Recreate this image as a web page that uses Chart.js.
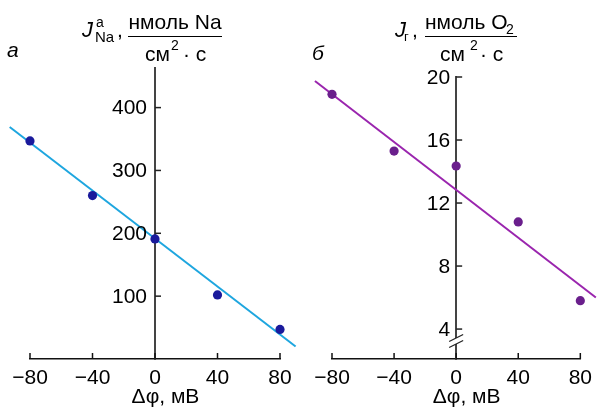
<!DOCTYPE html>
<html>
<head>
<meta charset="utf-8">
<script src="https://cdn.jsdelivr.net/npm/chart.js@4"></script>
<style>
  html,body{margin:0;padding:0;background:#fff;}
  #wrap{position:relative;width:599px;height:407px;overflow:hidden;}
  canvas{position:absolute;top:0;}
  #cA{left:0;}
  #cB{left:300px;}
</style>
</head>
<body>
<div id="wrap">
  <canvas id="cA" width="300" height="407"></canvas>
  <canvas id="cB" width="299" height="407"></canvas>
</div>
<script>
// ---- data ----
const potential = [-80, -40, 0, 40, 80];              // Δφ, мВ
const naFlux = [347, 260, 191, 102, 47];              // J_Na^a, нмоль Na/(см²·с)
const naFitX = [-93, 90];
const naFitY = [369, 20];
const o2Flux = [18.9, 15.3, 14.35, 10.8, 5.8];        // J_г, нмоль O2/(см²·с)
const o2FitX = [-91, 90];
const o2FitY = [19.75, 6.0];
const xTickValues = [-80, -40, 0, 40, 80];
const naTickValues = [100, 200, 300, 400];
const o2TickValues = [4, 8, 12, 16, 20];
const xAxisTitle = 'Δφ, мВ';

const FONT = "'Liberation Sans', Arial, Helvetica, sans-serif";

function fmt(v){ return v < 0 ? '\u2212' + Math.abs(v) : String(v); }
function pts(xs, ys){ return xs.map((x,i)=>({x:x, y:ys[i]})); }

const axisDecor = {
  id: 'axisDecor',
  afterDraw(chart, args, opts){
    const ctx = chart.ctx;
    const xs = chart.scales.x, ys = chart.scales.y;
    const ca = chart.chartArea;
    const x0 = xs.getPixelForValue(0);
    ctx.save();
    // x ticks pointing up
    ctx.strokeStyle = '#111'; ctx.lineWidth = 1.5;
    xTickValues.forEach(v=>{
      const px = xs.getPixelForValue(v);
      ctx.beginPath(); ctx.moveTo(px, ca.bottom); ctx.lineTo(px, ca.bottom - 6); ctx.stroke();
    });
    // x axis title
    ctx.fillStyle = '#000';
    ctx.font = '21px ' + FONT;
    ctx.textAlign = 'center'; ctx.textBaseline = 'alphabetic';
    ctx.fillText(xAxisTitle, x0 + 10.5, 403);
    // y ticks pointing right, labels on the left of the axis
    ctx.lineWidth = 1.5; ctx.strokeStyle = '#222';
    ctx.textAlign = 'right'; ctx.textBaseline = 'middle';
    ys.ticks.forEach(t=>{
      const py = ys.getPixelForValue(t.value);
      ctx.beginPath(); ctx.moveTo(x0, py); ctx.lineTo(x0 + 6, py); ctx.stroke();
      ctx.fillText(fmt(t.value), x0 - opts.labelPad, py + 1);
    });
    // axis break
    if (opts.brk){
      const c = opts.brk;
      ctx.fillStyle = '#fff';
      ctx.fillRect(x0 - 2, c - 3, 4, 6);
      ctx.strokeStyle = '#222'; ctx.lineWidth = 1.3;
      [c - 3, c + 3].forEach(cy=>{
        ctx.beginPath(); ctx.moveTo(x0 - 7, cy + 3.5); ctx.lineTo(x0 + 7, cy - 3.5); ctx.stroke();
      });
    }
    // titles
    ctx.fillStyle = '#000';
    ctx.textBaseline = 'alphabetic';
    opts.texts.forEach(t=>{
      ctx.font = (t.style || '') + ' ' + t.size + 'px ' + FONT;
      ctx.textAlign = t.align || 'left';
      ctx.fillText(t.s, t.x, t.y);
    });
    opts.lines.forEach(l=>{
      ctx.strokeStyle = '#000'; ctx.lineWidth = 1;
      ctx.beginPath(); ctx.moveTo(l[0], l[2] + 0.5); ctx.lineTo(l[1], l[2] + 0.5); ctx.stroke();
    });
    ctx.restore();
  }
};

function makeChart(id, cfg){
  return new Chart(document.getElementById(id), {
    type: 'scatter',
    data: { datasets: [
      { data: pts(potential, cfg.values), pointRadius: 4.6, pointBackgroundColor: cfg.pointColor,
        pointBorderColor: cfg.pointColor, pointBorderWidth: 0, showLine: false, clip: false, order: 1 },
      { data: pts(cfg.fitX, cfg.fitY), showLine: true, pointRadius: 0, borderColor: cfg.lineColor,
        borderWidth: 2, clip: false, order: 2 }
    ]},
    options: {
      responsive: false, animation: false, events: [],
      layout: { padding: cfg.padding },
      plugins: { legend: { display: false }, tooltip: { enabled: false }, axisDecor: cfg.decor },
      scales: {
        x: {
          type: 'linear', position: 'bottom', min: -80, max: 80,
          afterBuildTicks: s => { s.ticks = xTickValues.map(v => ({ value: v })); },
          afterFit: s => { s.height = 48; },
          ticks: { callback: v => fmt(v), color: '#000', font: { family: FONT, size: 21 }, padding: 7,
                   maxRotation: 0, autoSkip: false },
          grid: { display: false, drawTicks: false },
          border: { display: true, color: '#111', width: 1.5 },
          title: { display: false, text: xAxisTitle }
        },
        y: {
          type: 'linear', position: { x: 0 }, min: cfg.ymin, max: cfg.ymax,
          afterBuildTicks: s => { s.ticks = cfg.yTicks.map(v => ({ value: v })); },
          ticks: { display: false },
          grid: { display: false, drawTicks: false },
          border: { display: true, color: '#444', width: 2 }
        }
      }
    },
    plugins: [axisDecor]
  });
}

makeChart('cA', {
  values: naFlux, fitX: naFitX, fitY: naFitY, pointColor: '#1a1a9c', lineColor: '#1ea6df',
  ymin: 0, ymax: 463, yTicks: naTickValues,
  padding: { left: 30, right: 20, top: 68, bottom: 0 },
  decor: {
    labelPad: 8, brk: null,
    texts: [
      { s: 'а', x: 7, y: 57, size: 21, style: 'italic' },
      { s: 'J', x: 82, y: 37, size: 22, style: 'italic' },
      { s: 'a', x: 96, y: 27, size: 14 },
      { s: 'Na', x: 95, y: 42, size: 15 },
      { s: ',', x: 117, y: 37, size: 21 },
      { s: 'нмоль Na', x: 175, y: 29, size: 21, align: 'center' },
      { s: 'см', x: 145, y: 61, size: 21 },
      { s: '2', x: 171, y: 50, size: 14 },
      { s: '· с', x: 183, y: 61, size: 21 }
    ],
    lines: [[128, 222, 36]]
  }
});

makeChart('cB', {
  values: o2Flux, fitX: o2FitX, fitY: o2FitY, pointColor: '#6a1f8c', lineColor: '#9a25ae',
  ymin: 2.1, ymax: 20, yTicks: o2TickValues,
  padding: { left: 32, right: 17, top: 77, bottom: 0 },
  decor: {
    labelPad: 6, brk: 341,
    texts: [
      { s: 'б', x: 12, y: 60, size: 21, style: 'italic' },
      { s: 'J', x: 95, y: 37, size: 22, style: 'italic' },
      { s: 'г', x: 104, y: 41, size: 13 },
      { s: ',', x: 112, y: 37, size: 21 },
      { s: 'нмоль O', x: 125, y: 29, size: 21 },
      { s: '2', x: 206, y: 34, size: 14 },
      { s: 'см', x: 140, y: 61, size: 21 },
      { s: '2', x: 170, y: 50, size: 14 },
      { s: '· с', x: 180, y: 61, size: 21 }
    ],
    lines: [[125, 217, 36]]
  }
});
</script>
</body>
</html>
